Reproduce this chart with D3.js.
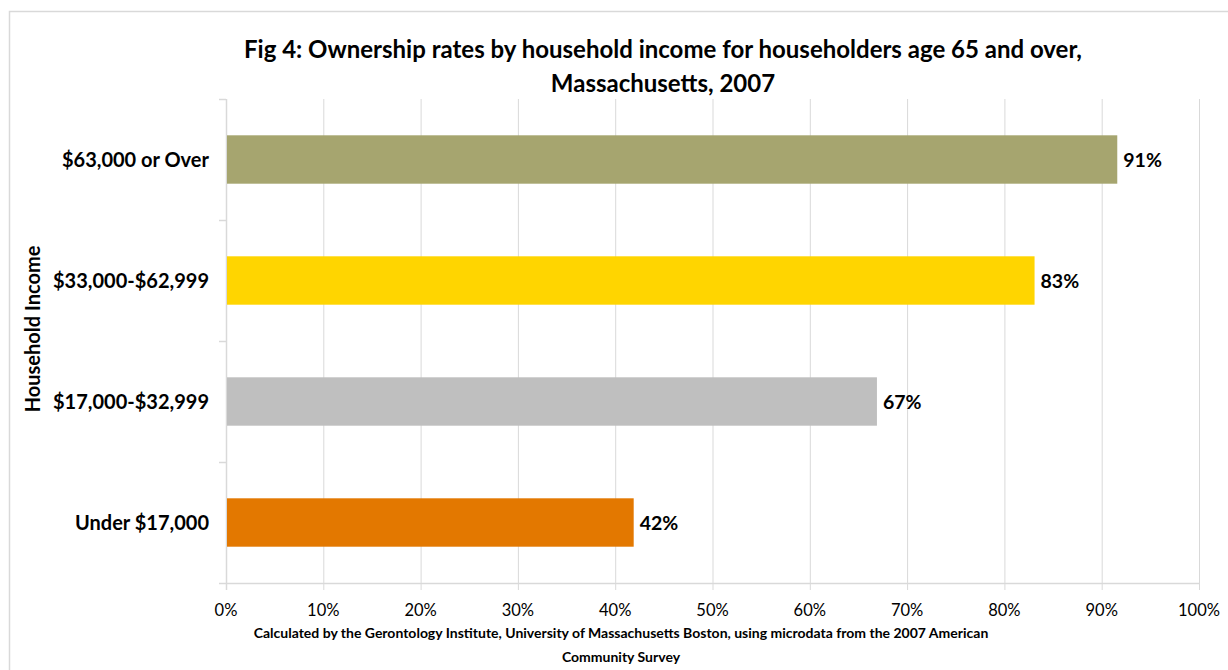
<!DOCTYPE html>
<html><head><meta charset="utf-8">
<script src="https://cdn.jsdelivr.net/npm/d3@7"></script>
<style>body{margin:0;background:#fff;} svg{display:block;font-family:Lato,"Open Sans",sans-serif;}</style>
</head><body>
<svg id="c" width="1228" height="670"></svg>
<script>
const categories = ["$63,000 or Over", "$33,000-$62,999", "$17,000-$32,999", "Under $17,000"];
const values = [91.6, 83.1, 66.9, 41.9];
const valueLabels = ["91%", "83%", "67%", "42%"];
const colors = ["#A6A56F", "#FFD500", "#BFBFBF", "#E37800"];
const tickValues = [0,10,20,30,40,50,60,70,80,90,100];
const titleLines = ["Fig 4: Ownership rates by household income for householders age 65 and over,", "Massachusetts, 2007"];
const noteLines = ["Calculated by the Gerontology Institute, University of Massachusetts Boston, using microdata from the 2007 American", "Community Survey"];

const svg = d3.select("#c");
svg.append("rect").attr("x",9.5).attr("y",11.5).attr("width",1240).attr("height",700)
  .attr("fill","#fff").attr("stroke","#d9d9d9").attr("stroke-width",1.5);

const x = d3.scaleLinear().domain([0,100]).range([226,1199]);
const y = d3.scaleBand().domain(categories).range([99,583]).paddingInner(0.6).paddingOuter(0.3);

// grid
svg.append("g").selectAll("line").data(tickValues).join("line")
  .attr("x1",d=>x(d)+0.5).attr("x2",d=>x(d)+0.5).attr("y1",99).attr("y2",590)
  .attr("stroke","#d9d9d9").attr("stroke-width",1);
// x axis line
svg.append("line").attr("x1",x(0)).attr("x2",x(100)+1).attr("y1",583.5).attr("y2",583.5).attr("stroke","#d9d9d9").attr("stroke-width",1.5);
// y axis
svg.append("line").attr("x1",x(0)+0.5).attr("x2",x(0)+0.5).attr("y1",99).attr("y2",590).attr("stroke","#d9d9d9").attr("stroke-width",1.5);
const bandEdges = categories.map(c=>y(c)-y.step()*y.paddingInner()/2).concat([583]);
svg.append("g").selectAll("line").data(bandEdges).join("line")
  .attr("x1",219).attr("x2",226).attr("y1",d=>Math.round(d)+0.5).attr("y2",d=>Math.round(d)+0.5)
  .attr("stroke","#d9d9d9").attr("stroke-width",1.5);

// tick labels
svg.append("g").selectAll("text").data(tickValues).join("text")
  .attr("x",d=>x(d)).attr("y",616).attr("text-anchor","middle")
  .attr("font-size",16.5).attr("fill","#000").text(d=>d+"%");

// bars
svg.append("g").selectAll("rect").data(values).join("rect")
  .attr("x",x(0)+1).attr("y",(d,i)=>y(categories[i]))
  .attr("width",d=>x(d)-x(0)-1).attr("height",y.bandwidth())
  .attr("fill",(d,i)=>colors[i]);

// value labels
svg.append("g").selectAll("text").data(values).join("text")
  .attr("x",d=>x(d)+6).attr("y",(d,i)=>y(categories[i])+y.bandwidth()/2+7)
  .attr("font-size",19.5).attr("font-weight","bold").attr("fill","#000").text((d,i)=>valueLabels[i]);

// category labels
svg.append("g").selectAll("text").data(categories).join("text")
  .attr("x",209).attr("y",d=>y(d)+y.bandwidth()/2+7).attr("text-anchor","end")
  .attr("font-size",20).attr("font-weight","bold").attr("fill","#000").text(d=>d);

// y title
svg.append("text").attr("transform","translate(40,329) rotate(-90)").attr("text-anchor","middle")
  .attr("font-size",20).attr("font-weight","bold").text("Household Income");

// title
svg.append("g").selectAll("text").data(titleLines).join("text")
  .attr("x",663).attr("y",(d,i)=>58+i*34).attr("text-anchor","middle")
  .attr("font-size",24).attr("font-weight","bold").text(d=>d);

// note
svg.append("g").selectAll("text").data(noteLines).join("text")
  .attr("x",621).attr("y",(d,i)=>638+i*24).attr("text-anchor","middle")
  .attr("font-size",14).attr("font-weight","bold").text(d=>d);
</script>
</body></html>
